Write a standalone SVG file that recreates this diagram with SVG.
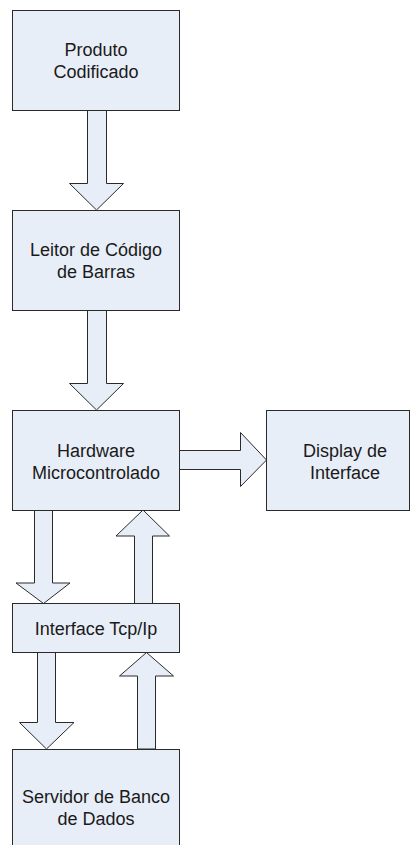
<svg xmlns="http://www.w3.org/2000/svg" width="412" height="845" viewBox="0 0 412 845">
  <style>
    .box { fill: #E8EEF8; stroke: #2a2a2a; stroke-width: 1; }
    .arrow { fill: #E8EEF8; stroke: #2a2a2a; stroke-width: 1; stroke-linejoin: miter; }
    .label { font-family: "Liberation Sans", Arial, sans-serif; font-size: 18px; fill: #1a1a1a; text-anchor: middle; }
  </style>
  <rect width="412" height="845" fill="#ffffff"/>

  <!-- block arrows between the stages -->
  <g id="connectors">
    <polygon class="arrow" points="87.5,110 106.5,110 106.5,183.5 123.5,183.5 96.5,210 69.5,183.5 87.5,183.5"/>
    <polygon class="arrow" points="87.5,310 106.5,310 106.5,383.5 123.5,383.5 96.5,410 69.5,383.5 87.5,383.5"/>
    <polygon class="arrow" points="179.5,450.5 240.5,450.5 240.5,432.5 266.5,460 240.5,486.5 240.5,469.5 179.5,469.5"/>
    <polygon class="arrow" points="34.5,510 52.5,510 52.5,583 70,583 43.5,603.5 16,583 34.5,583"/>
    <polygon class="arrow" points="134.5,603.5 152.5,603.5 152.5,536 169.5,536 143,510 116,536 134.5,536"/>
    <polygon class="arrow" points="37.5,652.5 55.5,652.5 55.5,722.5 74,722.5 46.5,749 19.5,722.5 37.5,722.5"/>
    <polygon class="arrow" points="137.5,749 155.5,749 155.5,676 173.5,676 146.5,652.5 119.5,676 137.5,676"/>
  </g>

  <g id="produto">
    <rect class="box" x="12.5" y="10.5" width="167" height="100"/>
    <text class="label" x="96" y="55.5">Produto</text>
    <text class="label" x="96" y="77.5">Codificado</text>
  </g>

  <g id="leitor">
    <rect class="box" x="12.5" y="210.5" width="167" height="100"/>
    <text class="label" x="96" y="255.5">Leitor de Código</text>
    <text class="label" x="96" y="277.5">de Barras</text>
  </g>

  <g id="hardware">
    <rect class="box" x="12.5" y="410.5" width="167" height="100"/>
    <text class="label" x="96" y="456.5">Hardware</text>
    <text class="label" x="96" y="478.5">Microcontrolado</text>
  </g>

  <g id="display">
    <rect class="box" x="266.5" y="410.5" width="143" height="100"/>
    <text class="label" x="345" y="456.5">Display de</text>
    <text class="label" x="345" y="478.5">Interface</text>
  </g>

  <g id="interface">
    <rect class="box" x="12.5" y="603.5" width="167" height="49"/>
    <text class="label" x="96" y="634.5">Interface Tcp/Ip</text>
  </g>

  <g id="servidor">
    <rect class="box" x="12.5" y="749.5" width="167" height="110"/>
    <text class="label" x="96" y="803">Servidor de Banco</text>
    <text class="label" x="96" y="825">de Dados</text>
  </g>
</svg>
